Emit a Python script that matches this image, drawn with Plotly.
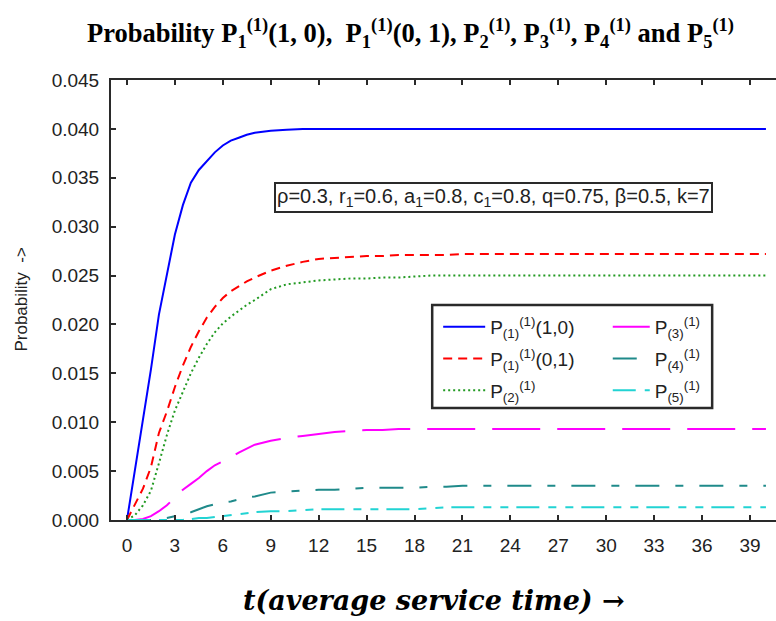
import plotly.graph_objects as go

# time grid (average service time)
t = [0, 0.5, 1, 1.5, 2, 2.5, 3, 3.5, 4, 4.5, 5, 5.5, 6, 6.5, 7, 7.5, 8,
     9, 10, 11, 12, 13, 14, 15, 16, 17, 18, 19, 20, 21, 22,
     24, 26, 28, 30, 32, 34, 36, 38, 40]

p1_10 = [0, 0.0050, 0.0101, 0.0154, 0.0210, 0.0252, 0.0292, 0.0322, 0.0345, 0.0358,
         0.0367, 0.0376, 0.0383, 0.0388, 0.0391, 0.0394, 0.0396,
         0.0398, 0.0399, 0.0400, 0.0400, 0.0400, 0.0400, 0.0400, 0.0400, 0.0400, 0.0400,
         0.0400, 0.0400, 0.0400, 0.0400,
         0.0400, 0.0400, 0.0400, 0.0400, 0.0400, 0.0400, 0.0400, 0.0400, 0.0400]

p1_01 = [0, 0.0016, 0.0032, 0.0054, 0.0089, 0.0111, 0.0136, 0.0158, 0.0177, 0.0193,
         0.0207, 0.0218, 0.0227, 0.0234, 0.0239, 0.0244, 0.0248,
         0.0255, 0.0260, 0.0264, 0.0267, 0.0268, 0.0269, 0.0270, 0.0270, 0.0271, 0.0271,
         0.0271, 0.0271, 0.0272, 0.0272,
         0.0272, 0.0272, 0.0272, 0.0272, 0.0272, 0.0272, 0.0272, 0.0272, 0.0272]

p2 = [0, 0.0005, 0.0015, 0.0030, 0.0058, 0.0087, 0.0112, 0.0131, 0.0150, 0.0166,
      0.0180, 0.0192, 0.0201, 0.0208, 0.0214, 0.0220, 0.0225,
      0.0236, 0.0241, 0.0243, 0.0245, 0.0246, 0.0247, 0.0247, 0.0248, 0.0248, 0.0249,
      0.0250, 0.0250, 0.0250, 0.0250,
      0.0250, 0.0250, 0.0250, 0.0250, 0.0250, 0.0250, 0.0250, 0.0250, 0.0250]

p3 = [0, 0, 0.0001, 0.0004, 0.0009, 0.0015, 0.0023, 0.0031, 0.0037, 0.0043,
      0.0050, 0.0056, 0.0060, 0.0064, 0.0069, 0.0073, 0.0077,
      0.0081, 0.0084, 0.0086, 0.0088, 0.0090, 0.0091, 0.0092, 0.0092, 0.0093, 0.0093,
      0.0093, 0.0093, 0.0093, 0.0093,
      0.0093, 0.0093, 0.0093, 0.0093, 0.0093, 0.0093, 0.0093, 0.0093, 0.0093]

p4 = [0, 0, 0, 0, 0.0001, 0.0002, 0.0004, 0.0006, 0.0008, 0.0011,
      0.0014, 0.0016, 0.0018, 0.0019, 0.0021, 0.0023, 0.0024,
      0.0028, 0.0029, 0.0030, 0.0031, 0.0031, 0.0032, 0.0033, 0.0033, 0.0033, 0.0033,
      0.0034, 0.0034, 0.0035, 0.0035,
      0.0035, 0.0035, 0.0035, 0.0035, 0.0035, 0.0035, 0.0035, 0.0035, 0.0035]

p5 = [0, 0, 0, 0, 0, 0, 0, 0, 0.0001, 0.0002,
      0.0002, 0.0003, 0.0004, 0.0005, 0.0006, 0.0007, 0.0008,
      0.0009, 0.0009, 0.0010, 0.0011, 0.0011, 0.0011, 0.0011, 0.0011, 0.0011, 0.0011,
      0.0012, 0.0013, 0.0013, 0.0013,
      0.0013, 0.0013, 0.0013, 0.0013, 0.0013, 0.0013, 0.0013, 0.0013, 0.0013]

x_ticks = list(range(0, 40, 3))

series = [
    # name, values, colour, dash, legend column
    ("P<sub>(1)</sub><sup>(1)</sup>(1,0)", p1_10, "#0000FF", "solid", "legend"),
    ("P<sub>(1)</sub><sup>(1)</sup>(0,1)", p1_01, "#FF0000", "9px,6px", "legend"),
    ("P<sub>(2)</sub><sup>(1)</sup>", p2, "#229A22", "2px,3px", "legend"),
    ("P<sub>(3)</sub><sup>(1)</sup>", p3, "#FF00FF", "48px,17px", "legend2"),
    ("P<sub>(4)</sub><sup>(1)</sup>", p4, "#1F8A8A", "24px,16px,8px,16px", "legend2"),
    ("P<sub>(5)</sub><sup>(1)</sup>", p5, "#22D3D3", "23px,9px,8px,9px,8px,8px", "legend2"),
]

fig = go.Figure()
for i, (name, vals, color, dash, leg) in enumerate(series):
    fig.add_trace(go.Scatter(
        x=t, y=vals, mode="lines", name=name,
        line=dict(color=color, width=2, dash=dash),
        legend=leg, legendgroup=f"g{i}",
    ))

axis_col = "#2a2a2a"
sans = "Liberation Sans, Arial, sans-serif"
tick_font = dict(family=sans, size=19, color="#222")
legend_font = dict(family=sans, size=19, color="#222")

fig.update_layout(
    width=776, height=621,
    margin=dict(l=111, r=0, t=80, b=101),
    paper_bgcolor="white", plot_bgcolor="white",
    showlegend=True,
    xaxis=dict(
        range=[-1, 40.63], tickvals=x_ticks, ticktext=[str(v) for v in x_ticks],
        showline=True, linewidth=2, linecolor=axis_col, mirror="ticks",
        ticks="inside", ticklen=5, tickwidth=2, tickcolor=axis_col,
        showgrid=False, zeroline=False, tickfont=tick_font, ticklabelstandoff=7,
    ),
    yaxis=dict(
        range=[0, 0.045], dtick=0.005, tick0=0, tickformat=".3f",
        showline=True, linewidth=2, linecolor=axis_col, mirror=False,
        ticks="inside", ticklen=5, tickwidth=2, tickcolor=axis_col,
        showgrid=False, zeroline=False, tickfont=tick_font, ticklabelstandoff=6,
    ),
    legend=dict(
        x=0.492, y=0.482, xanchor="left", yanchor="top",
        bgcolor="rgba(0,0,0,0)", borderwidth=0, font=legend_font,
        tracegroupgap=4, itemwidth=42,
    ),
    legend2=dict(
        x=0.747, y=0.482, xanchor="left", yanchor="top",
        bgcolor="rgba(0,0,0,0)", borderwidth=0, font=legend_font,
        tracegroupgap=4, itemwidth=37,
    ),
    shapes=[dict(
        type="rect", xref="paper", yref="paper",
        x0=0.483, x1=0.904, y0=0.2545, y1=0.4886,
        line=dict(color=axis_col, width=2.5), fillcolor="rgba(0,0,0,0)", layer="above",
    )],
)

fig.add_annotation(
    xref="paper", yref="paper", x=0.5746, y=0.733, xanchor="center", yanchor="middle",
    text="ρ=0.3, r<sub>1</sub>=0.6, a<sub>1</sub>=0.8, c<sub>1</sub>=0.8, q=0.75, β=0.5, k=7",
    showarrow=False, font=dict(family=sans, size=20, color="#222"),
    bordercolor=axis_col, borderwidth=2, borderpad=1, bgcolor="white",
)

fig.add_annotation(
    xref="paper", yref="paper", x=-0.136, y=0.5, xanchor="center", yanchor="middle",
    text="Probability  ->", textangle=-90, showarrow=False,
    font=dict(family=sans, size=17, color="#222"),
)

fig.add_annotation(
    xref="paper", yref="paper", x=0.485, y=-0.182, xanchor="center", yanchor="middle",
    text="<b><i>t(average service time) →</i></b>", showarrow=False,
    font=dict(family="DejaVu Serif, serif", size=27, color="black"),
)

fig.add_annotation(
    xref="paper", yref="paper", x=0.45, y=1.107, xanchor="center", yanchor="middle",
    text=("<b>Probability P<sub>1</sub><sup>(1)</sup>(1, 0),  P<sub>1</sub><sup>(1)</sup>(0, 1), "
          "P<sub>2</sub><sup>(1)</sup>, P<sub>3</sub><sup>(1)</sup>, P<sub>4</sub><sup>(1)</sup> "
          "and P<sub>5</sub><sup>(1)</sup></b>"),
    showarrow=False, font=dict(family="Liberation Serif, serif", size=26.5, color="black"),
)

fig.write_html("out.html")
